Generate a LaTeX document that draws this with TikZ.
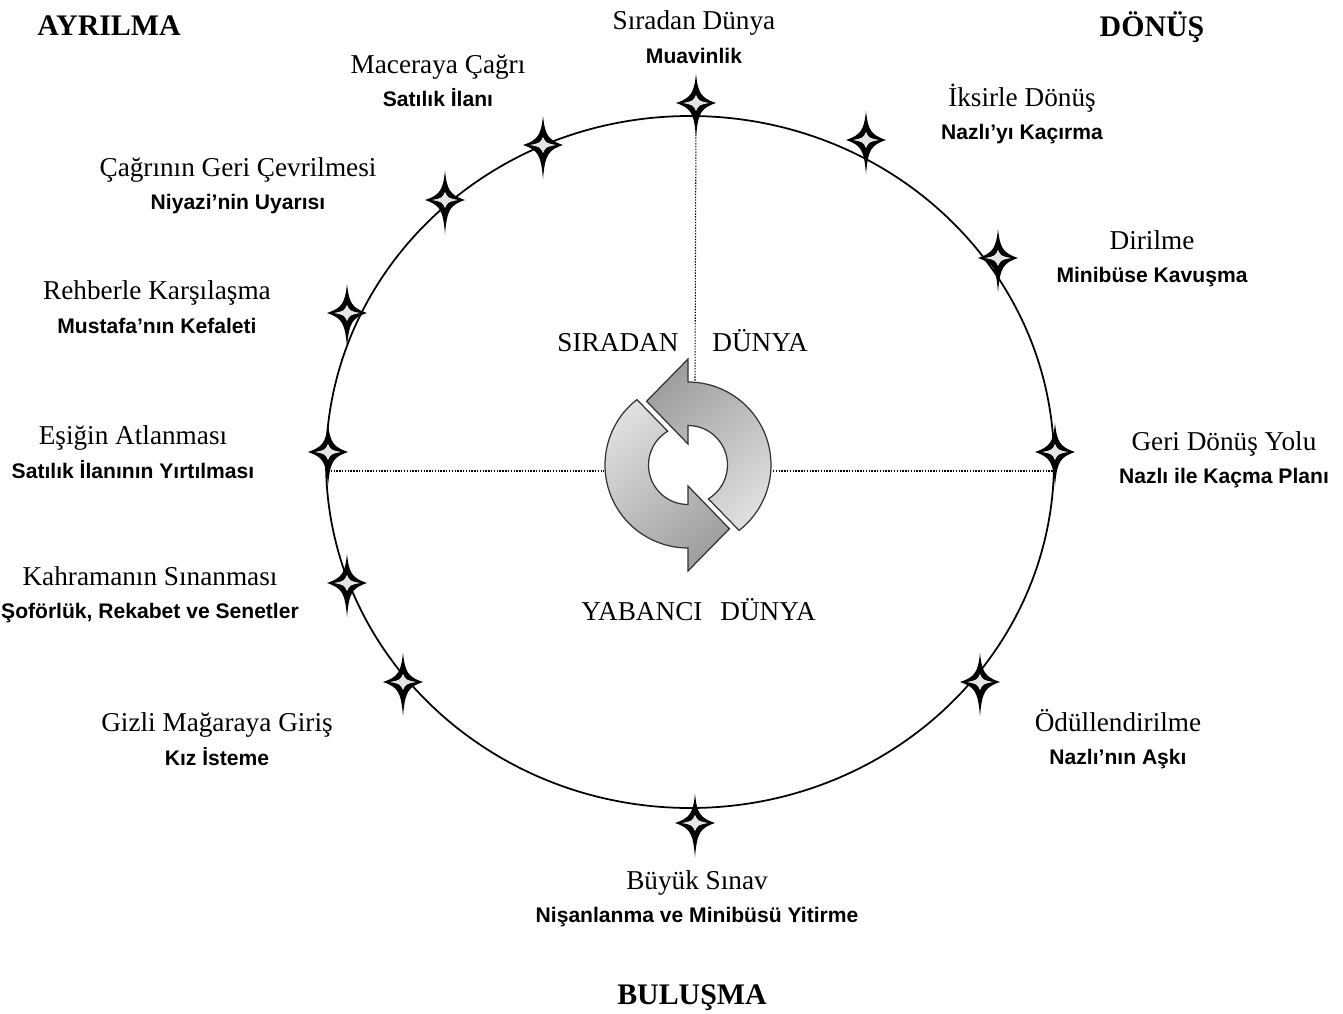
\documentclass[tikz,border=0pt]{standalone}
\usepackage{fontspec}
\setmainfont{Liberation Serif}
\newfontfamily\subfont{Liberation Sans}
\newcommand{\subline}[1]{{\subfont\bfseries\fontsize{12}{19}\selectfont #1}}

\begin{document}
\begin{tikzpicture}[x=0.02cm,y=-0.02cm,font=\fontsize{15.5}{19}\selectfont,
 stg/.style={align=center,inner sep=0pt},
 hd/.style={anchor=base,font=\fontsize{17}{20}\selectfont\bfseries},
 wd/.style={anchor=base},
 dt/.style={line width=0.6pt,dash pattern=on 0.8pt off 0.8pt},
 hstar/.pic={\fill[black] (0,-29) .. controls (2,-10) and (5,-5) .. (20,0) .. controls (5,5) and (2,10) .. (0,34) .. controls (-2,10) and (-5,5) .. (-20,0) .. controls (-5,-5) and (-2,-10) .. cycle;
  \fill[gray!20] (-13,0) .. controls (-3,-2) .. (0,-8) .. controls (3,-2) .. (13,0) .. controls (3,2) .. (0,8) .. controls (-3,2) .. cycle;}]
\useasboundingbox (0,0) rectangle (1343,1014);
\draw[line width=1pt] (690,462) ellipse [x radius=364,y radius=346];
\coordinate (lw) at (328,471);
\coordinate (la) at (604,471);
\coordinate (ra) at (773,471);
\coordinate (rw) at (1053,471);
\coordinate (tw) at (696,115);
\coordinate (ta) at (695,381);
\draw[dt] (lw) -- (la);
\draw[dt] (ra) -- (rw);
\draw[dt] (tw) -- (ta);
\begin{scope}[shift={(688,465)},y=0.02cm,draw=black!80,line width=0.7pt]
\shadedraw[top color=gray!25,bottom color=gray!75,shading angle=40] (128:83) arc[start angle=128,end angle=270,radius=83] -- (270:106) -- (303:76) -- (270:21) -- (270:39.5) arc[start angle=270,end angle=121,radius=39.5] -- cycle;
\shadedraw[top color=gray!75,bottom color=gray!25,shading angle=40] (-52:83) arc[start angle=-52,end angle=90,radius=83] -- (90:106) -- (123:76) -- (90:21) -- (90:39.5) arc[start angle=90,end angle=-59,radius=39.5] -- cycle;
\end{scope}
\pic at (696,103) {hstar};
\pic at (543,145) {hstar};
\pic at (445,200) {hstar};
\pic at (347,313) {hstar};
\pic at (328,452) {hstar};
\pic at (347,583) {hstar};
\pic at (403,682) {hstar};
\pic at (695,823) {hstar};
\pic at (980,682) {hstar};
\pic at (1055,452) {hstar};
\pic at (998,258) {hstar};
\pic at (866,140) {hstar};
\node[hd] (ay) at (109,35) {AYRILMA};
\node[hd] (dn) at (1152,36) {DÖNÜŞ};
\node[hd] (bl) at (692,1004) {BULUŞMA};
\node[wd] (sr) at (618,351) {SIRADAN};
\node[wd] (sd) at (760,351) {DÜNYA};
\node[wd] (yb) at (642,620) {YABANCI};
\node[wd] (yd) at (768,620) {DÜNYA};
\node[stg] (s0) at (694,37) {Sıradan Dünya\\\subline{Muavinlik}};
\node[stg] (s1) at (438,81) {Maceraya Çağrı\\\subline{Satılık İlanı}};
\node[stg] (s2) at (238,186) {Çağrının Geri Çevrilmesi\\\subline{Niyazi’nin Uyarısı}};
\node[stg] (s3) at (157,307) {Rehberle Karşılaşma\\\subline{Mustafa’nın Kefaleti}};
\node[stg] (s4) at (133,452) {Eşiğin Atlanması\\\subline{Satılık İlanının Yırtılması}};
\node[stg] (s5) at (150,595) {Kahramanın Sınanması\\\subline{Şoförlük, Rekabet ve Senetler}};
\node[stg] (s6) at (217,739) {Gizli Mağaraya Giriş\\\subline{Kız İsteme}};
\node[stg] (s7) at (697,899) {Büyük Sınav\\\subline{Nişanlanma ve Minibüsü Yitirme}};
\node[stg] (s8) at (1118,739) {Ödüllendirilme\\\subline{Nazlı’nın Aşkı}};
\node[stg] (s9) at (1224,460) {Geri Dönüş Yolu\\\subline{Nazlı ile Kaçma Planı}};
\node[stg] (s10) at (1152,259) {Dirilme\\\subline{Minibüse Kavuşma}};
\node[stg] (s11) at (1022,114) {İksirle Dönüş\\\subline{Nazlı’yı Kaçırma}};
\end{tikzpicture}
\end{document}
